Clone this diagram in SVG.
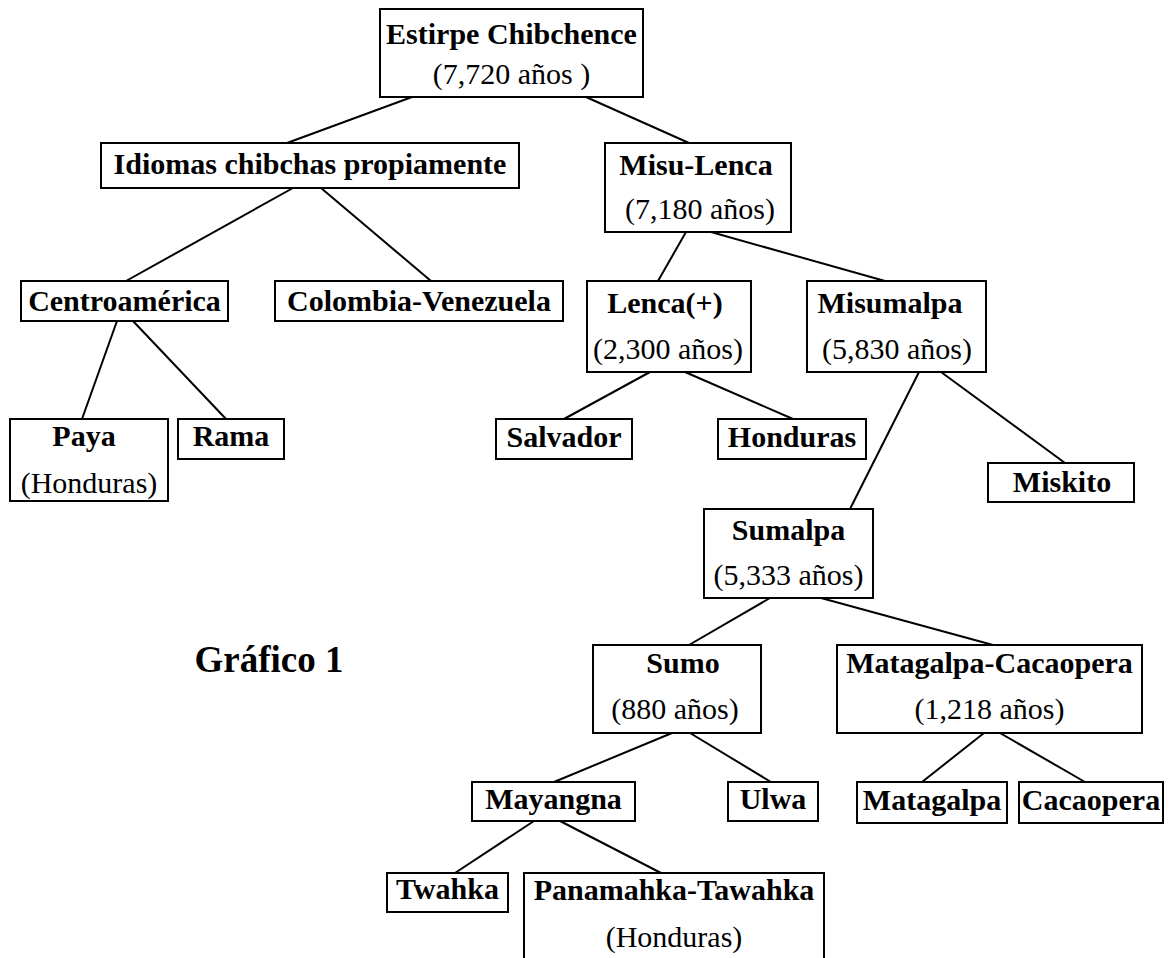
<svg xmlns="http://www.w3.org/2000/svg" width="1171" height="958" viewBox="0 0 1171 958">
<style>
.box{fill:#fff;stroke:#000;stroke-width:2}
.t{font-family:"Liberation Serif","Times New Roman",serif;font-size:30px;text-anchor:middle;fill:#000}
.b{font-weight:bold}
#connectors line{stroke:#000;stroke-width:2}
.title{font-family:"Liberation Serif","Times New Roman",serif;font-size:37px;font-weight:bold;text-anchor:middle;fill:#000}
</style>
<rect width="1171" height="958" fill="#fff"/>
<g id="connectors">
<line x1="412" y1="97" x2="287" y2="143"/>
<line x1="586" y1="97" x2="689" y2="143"/>
<line x1="293" y1="188" x2="126" y2="281"/>
<line x1="321" y1="188" x2="431" y2="281"/>
<line x1="686" y1="232" x2="658" y2="281"/>
<line x1="711" y1="232" x2="885" y2="281"/>
<line x1="117" y1="321" x2="82" y2="419"/>
<line x1="133" y1="321" x2="226" y2="419"/>
<line x1="650" y1="372" x2="564" y2="419"/>
<line x1="685" y1="372" x2="793" y2="419"/>
<line x1="919" y1="372" x2="850" y2="509"/>
<line x1="941" y1="372" x2="1065" y2="463"/>
<line x1="770" y1="598" x2="689" y2="645"/>
<line x1="821" y1="598" x2="993" y2="645"/>
<line x1="672" y1="733" x2="554" y2="782"/>
<line x1="690" y1="733" x2="771" y2="782"/>
<line x1="984" y1="733" x2="922" y2="782"/>
<line x1="1000" y1="733" x2="1085" y2="782"/>
<line x1="534" y1="821" x2="455" y2="873"/>
<line x1="560" y1="821" x2="661" y2="873"/>
</g>
<g id="estirpe"><rect class="box" x="380" y="9" width="263" height="88"/><text class="t b" x="511.5" y="44">Estirpe Chibchence</text><text class="t" x="511.5" y="84">(7,720 años )</text></g>
<g id="idiomas"><rect class="box" x="101" y="143" width="418" height="45"/><text class="t b" x="310" y="174">Idiomas chibchas propiamente</text></g>
<g id="misu-lenca"><rect class="box" x="605" y="143" width="186" height="89"/><text class="t b" x="696" y="175">Misu-Lenca</text><text class="t" x="700" y="219">(7,180 años)</text></g>
<g id="centroamerica"><rect class="box" x="21" y="281" width="207" height="40"/><text class="t b" x="124.5" y="311">Centroamérica</text></g>
<g id="colombia-venezuela"><rect class="box" x="275" y="281" width="288" height="40"/><text class="t b" x="419" y="311">Colombia-Venezuela</text></g>
<g id="lenca"><rect class="box" x="587" y="281" width="164" height="91"/><text class="t b" x="665" y="313">Lenca(+)</text><text class="t" x="668" y="359">(2,300 años)</text></g>
<g id="misumalpa"><rect class="box" x="807" y="281" width="179" height="91"/><text class="t b" x="890" y="313">Misumalpa</text><text class="t" x="897" y="359">(5,830 años)</text></g>
<g id="paya"><rect class="box" x="10" y="419" width="158" height="82"/><text class="t b" x="84" y="446">Paya</text><text class="t" x="89" y="493">(Honduras)</text></g>
<g id="rama"><rect class="box" x="178" y="419" width="106" height="40"/><text class="t b" x="231" y="446">Rama</text></g>
<g id="salvador"><rect class="box" x="496" y="419" width="136" height="40"/><text class="t b" x="564" y="447">Salvador</text></g>
<g id="honduras"><rect class="box" x="718" y="419" width="148" height="40"/><text class="t b" x="792" y="447">Honduras</text></g>
<g id="miskito"><rect class="box" x="988" y="463" width="146" height="39"/><text class="t b" x="1062" y="492">Miskito</text></g>
<g id="sumalpa"><rect class="box" x="704" y="509" width="169" height="89"/><text class="t b" x="788.5" y="540">Sumalpa</text><text class="t" x="788.5" y="585">(5,333 años)</text></g>
<g id="sumo"><rect class="box" x="593" y="645" width="168" height="88"/><text class="t b" x="683" y="673">Sumo</text><text class="t" x="675" y="719">(880 años)</text></g>
<g id="matagalpa-cacaopera"><rect class="box" x="837" y="645" width="305" height="88"/><text class="t b" x="989.5" y="673">Matagalpa-Cacaopera</text><text class="t" x="989.5" y="719">(1,218 años)</text></g>
<g id="mayangna"><rect class="box" x="472" y="782" width="163" height="39"/><text class="t b" x="553.5" y="809">Mayangna</text></g>
<g id="ulwa"><rect class="box" x="728" y="782" width="90" height="39"/><text class="t b" x="773" y="809">Ulwa</text></g>
<g id="matagalpa"><rect class="box" x="857" y="782" width="150" height="41"/><text class="t b" x="932" y="810">Matagalpa</text></g>
<g id="cacaopera"><rect class="box" x="1019" y="782" width="144" height="41"/><text class="t b" x="1091" y="810">Cacaopera</text></g>
<g id="twahka"><rect class="box" x="387" y="873" width="121" height="39"/><text class="t b" x="447.5" y="899">Twahka</text></g>
<g id="panamahka-tawahka"><rect class="box" x="524" y="873" width="300" height="92"/><text class="t b" x="674" y="900">Panamahka-Tawahka</text><text class="t" x="674" y="947">(Honduras)</text></g>
<g id="grafico"><text class="title" x="269" y="672">Gráfico 1</text></g>
</svg>
